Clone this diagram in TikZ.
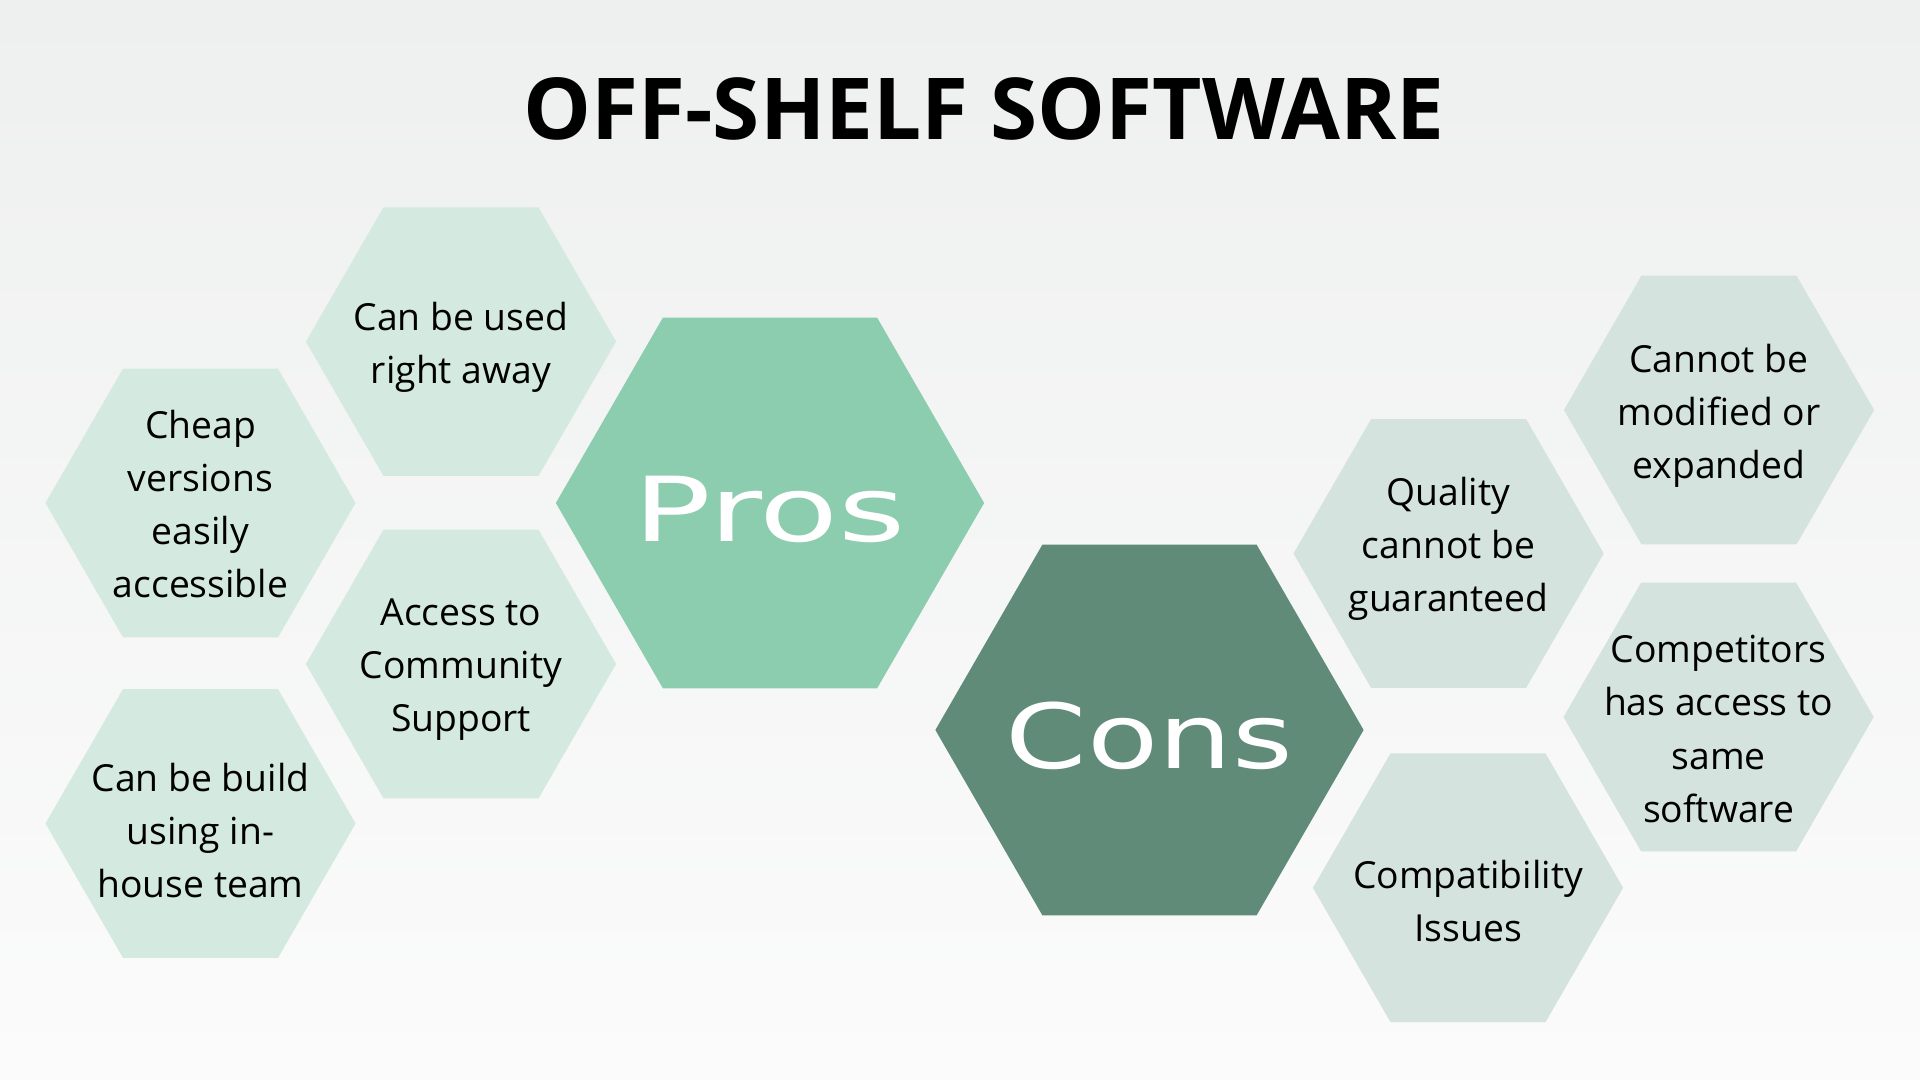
\documentclass[tikz,border=0pt]{standalone}
\usepackage{fontspec}
\setmainfont{Open Sans}
\newfontfamily\widefont[FakeStretch=1.3]{DejaVu Sans}
\newfontfamily\widerfont[FakeStretch=1.44]{DejaVu Sans}
\usepackage{tikz}
\usetikzlibrary{shapes.geometric}
\usepackage{xcolor}
\definecolor{bgtop}{HTML}{EEF0EF}
\definecolor{bgbottom}{HTML}{FBFBFB}
\definecolor{prosgreen}{HTML}{8CCDB0}
\definecolor{consgreen}{HTML}{5F8B78}
\definecolor{proslight}{HTML}{D4EAE1}
\definecolor{conslight}{HTML}{D4E3DE}
\tikzset{
  hexbase/.style={regular polygon, regular polygon sides=6, inner sep=0pt, outer sep=0pt},
  proitem/.style={hexbase, fill=proslight, minimum size=3.1cm},
  conitem/.style={hexbase, fill=conslight, minimum size=3.1cm},
  itemtext/.style={align=center, text=black, font=\fontsize{10.6}{15.1}\selectfont},
  bigword/.style={text=white, yshift=-0.06cm, font=\fontsize{25.5}{30}\selectfont}
}

\begin{document}
\begin{tikzpicture}[x=0.01cm, y=-0.01cm]
\fill[top color=bgtop, bottom color=bgbottom] (0,0) rectangle (1920,1080);
\useasboundingbox (0,0) rectangle (1920,1080);
\node[anchor=base, font=\fontsize{24.3}{28}\selectfont\bfseries] (title) at (984,140) {OFF-SHELF SOFTWARE};
\node[hexbase, fill=prosgreen, minimum size=4.28cm, label={[bigword]center:\widerfont Pros}] (pros) at (770,503) {};
\node[hexbase, fill=consgreen, minimum size=4.28cm, label={[bigword]center:\widefont Cons}] (cons) at (1149.5,730) {};
\node[proitem, label={[itemtext, yshift=-0.06cm]center:{Can be used\\right away}}] (proA) at (461,341.6) {};
\node[proitem, label={[itemtext, yshift=-0.01cm]center:{Cheap\\versions\\easily\\accessible}}] (proB) at (200.5,503) {};
\node[proitem, label={[itemtext, yshift=-0.06cm]center:{Access to\\Community\\Support}}] (proC) at (461,664) {};
\node[proitem, label={[itemtext, yshift=-0.07cm]center:{Can be build\\using in-\\house team}}] (proD) at (200.5,823.5) {};
\node[conitem, label={[itemtext, yshift=0.05cm]center:{Quality\\cannot be\\guaranteed}}] (conA) at (1448.6,553.5) {};
\node[conitem, label={[itemtext, yshift=-0.06cm]center:{Cannot be\\modified or\\expanded}}] (conB) at (1719,410) {};
\node[conitem, label={[itemtext, yshift=-0.12cm]center:{Competitors\\has access to\\same\\software}}] (conC) at (1718.6,717) {};
\node[conitem, label={[itemtext, yshift=-0.13cm]center:{Compatibility\\Issues}}] (conD) at (1468,887.8) {};
\end{tikzpicture}
\end{document}
